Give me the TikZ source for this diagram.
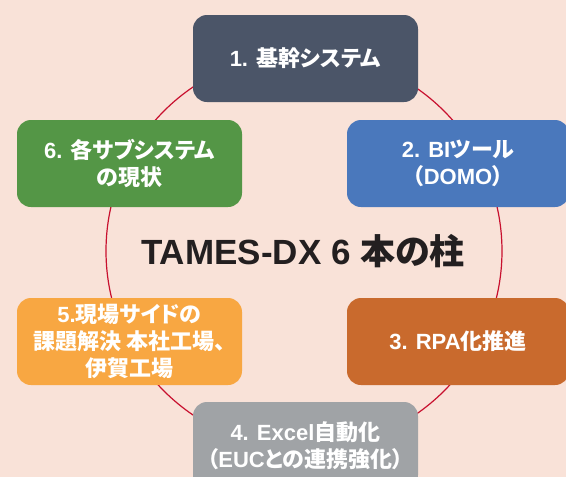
\documentclass[tikz,border=0pt]{standalone}
\usepackage{fontspec}
\setmainfont{Liberation Sans}
\newfontfamily\jp[RawFeature=+palt]{Noto Sans CJK JP}
\newfontfamily\jpm[RawFeature=+palt]{Noto Sans CJK JP Medium}
\definecolor{bgcol}{HTML}{F9E2D8}
\definecolor{cone}{HTML}{4B5568}
\definecolor{ctwo}{HTML}{4A78BC}
\definecolor{cthree}{HTML}{C96A2D}
\definecolor{cfour}{HTML}{A0A3A6}
\definecolor{cfive}{HTML}{F8A742}
\definecolor{csix}{HTML}{549646}
\definecolor{ringcol}{HTML}{C8102E}
\definecolor{titlecol}{HTML}{231F20}
\begin{document}
\begin{tikzpicture}[x=1pt,y=-1pt,
  box/.style={rounded corners=14pt, minimum width=225pt, minimum height=87pt,
    text=white, align=center, inner sep=0pt,
    font=\fontsize{22}{27}\selectfont\bfseries},
  ring/.style={draw=ringcol, line width=1.2pt}]
\useasboundingbox (0,0) rectangle (566,477);
\fill[bgcol] (0,0) rectangle (566,477);
\clip (0,0) rectangle (566,477);
\coordinate (c) at (304,251);
\draw[ring] (c) circle[radius=198pt];
\node[font=\fontsize{35}{40}\selectfont\bfseries, text=titlecol] (title) at (303,251) {TAMES-DX 6 {\jp 本の柱}};
\node[box, fill=cone] (b1) at (305.5,58.5) {1. {\jpm 基幹システム}};
\node[box, fill=ctwo, minimum width=222pt] (b2) at (458,163.5) {2. BI{\jpm ツール}\\{\jpm （}DOMO{\jpm ）}};
\node[box, fill=cthree, minimum width=222pt] (b3) at (458,341.5) {3. RPA{\jpm 化推進}};
\node[box, fill=cfour] (b4) at (305.5,445.5) {4. Excel{\jpm 自動化}\\{\jpm （}EUC{\jpm との連携強化）}};
\node[box, fill=cfive] (b5) at (129.5,341.5) {5.{\jpm 現場サイドの}\\{\jpm 課題解決 本社工場、}\\{\jpm 伊賀工場}};
\node[box, fill=csix] (b6) at (129.5,163.5) {6. {\jpm 各サブシステム}\\{\jpm の現状}};
\end{tikzpicture}
\end{document}
